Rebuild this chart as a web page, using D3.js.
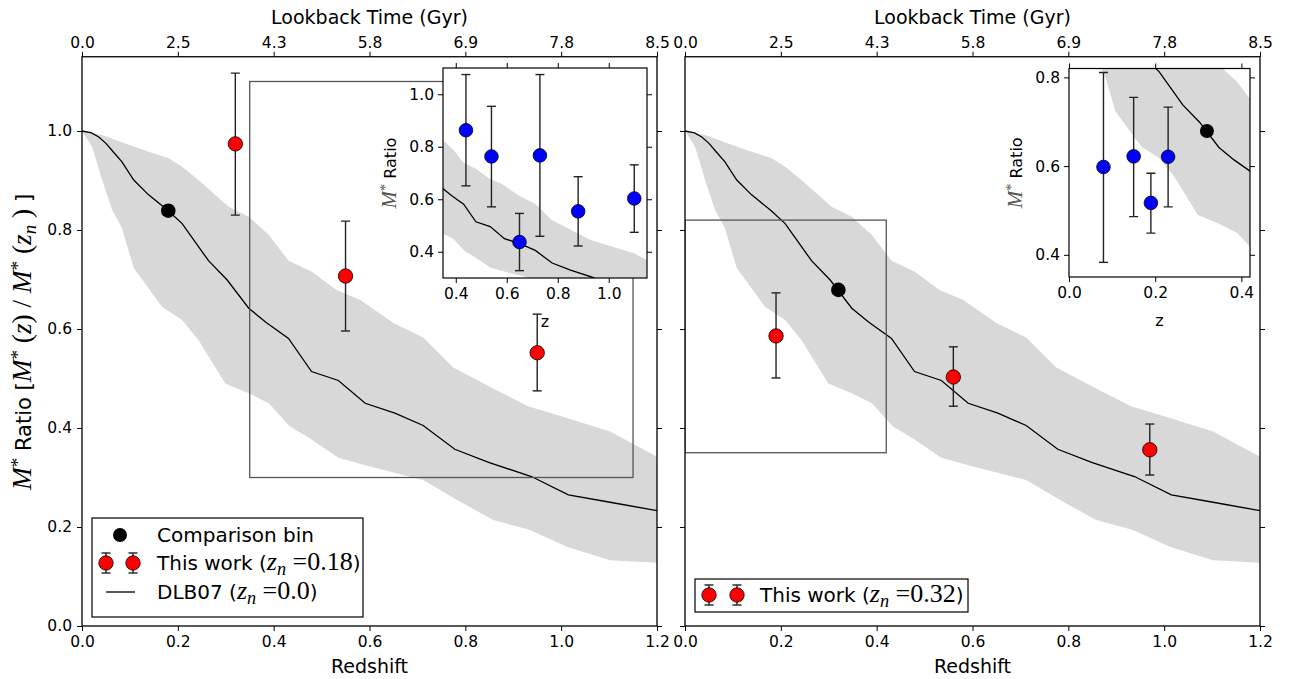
<!DOCTYPE html>
<html>
<head>
<meta charset="utf-8">
<script src="https://cdn.jsdelivr.net/npm/d3@7/dist/d3.min.js"></script>
<style>
  body { margin: 0; background: #fff; }
  svg { display: block; }
  text { font-family: "DejaVu Sans", sans-serif; fill: #000; }
</style>
</head>
<body>
<svg id="chart" width="1290" height="679"></svg>
<script>
// ---------------- DATA ----------------
const redshiftTicks = [0, 0.2, 0.4, 0.6, 0.8, 1.0, 1.2];
const lookbackLabels = ["0.0", "2.5", "4.3", "5.8", "6.9", "7.8", "8.5"];
const ratioTicks = [0, 0.2, 0.4, 0.6, 0.8, 1.0];

// DLB07 model median line
const dlbZ = [0, 0.02, 0.035, 0.05, 0.065, 0.083, 0.108, 0.139, 0.18, 0.209, 0.264, 0.303, 0.348, 0.383, 0.431, 0.479, 0.535, 0.591, 0.653, 0.712, 0.778, 0.85, 0.938, 1.015, 1.102, 1.2];
const dlbV = [1.0, 0.996, 0.988, 0.975, 0.958, 0.938, 0.901, 0.871, 0.839, 0.813, 0.738, 0.699, 0.642, 0.614, 0.581, 0.514, 0.496, 0.45, 0.43, 0.405, 0.357, 0.33, 0.302, 0.265, 0.25, 0.233];
// DLB07 scatter band (upper / lower edges)
const bandUpZ = [0, 0.042, 0.09, 0.139, 0.181, 0.209, 0.243, 0.306, 0.348, 0.39, 0.431, 0.479, 0.531, 0.58, 0.65, 0.712, 0.775, 0.858, 0.931, 1.012, 1.102, 1.2];
const bandUpV = [1.0, 0.992, 0.975, 0.958, 0.945, 0.928, 0.901, 0.847, 0.827, 0.79, 0.738, 0.716, 0.679, 0.659, 0.612, 0.583, 0.522, 0.48, 0.444, 0.42, 0.393, 0.342];
const bandLoZ = [0, 0.021, 0.042, 0.063, 0.083, 0.108, 0.167, 0.209, 0.243, 0.299, 0.348, 0.39, 0.434, 0.476, 0.535, 0.601, 0.712, 0.782, 0.858, 0.935, 1.012, 1.102, 1.2];
const bandLoV = [1.0, 0.968, 0.901, 0.84, 0.805, 0.723, 0.645, 0.618, 0.578, 0.49, 0.47, 0.45, 0.403, 0.379, 0.34, 0.322, 0.295, 0.255, 0.214, 0.194, 0.16, 0.133, 0.128];

// Left panel (z_n = 0.18)
const leftRedZ = [0.32, 0.55, 0.95];
const leftRedV = [0.974, 0.707, 0.552];
const leftRedLo = [0.830, 0.596, 0.475];
const leftRedHi = [1.117, 0.818, 0.630];
const leftCompZ = [0.18];
const leftCompV = [0.839];
const leftInsetZ = [0.44, 0.54, 0.65, 0.73, 0.88, 1.10];
const leftInsetV = [0.863, 0.763, 0.437, 0.767, 0.554, 0.603];
const leftInsetLo = [0.651, 0.571, 0.328, 0.459, 0.422, 0.474];
const leftInsetHi = [1.075, 0.954, 0.546, 1.075, 0.686, 0.731];
const leftInsetXTicks = [0.4, 0.6, 0.8, 1.0];
const leftInsetYTicks = [0.4, 0.6, 0.8, 1.0];

// Right panel (z_n = 0.32)
const rightRedZ = [0.19, 0.56, 0.97];
const rightRedV = [0.586, 0.503, 0.356];
const rightRedLo = [0.501, 0.444, 0.305];
const rightRedHi = [0.673, 0.564, 0.408];
const rightCompZ = [0.32];
const rightCompV = [0.679];
const rightInsetZ = [0.08, 0.15, 0.19, 0.23];
const rightInsetV = [0.598, 0.622, 0.517, 0.621];
const rightInsetLo = [0.383, 0.486, 0.449, 0.508];
const rightInsetHi = [0.811, 0.755, 0.584, 0.733];
const rightInsetXTicks = [0.0, 0.2, 0.4];
const rightInsetYTicks = [0.4, 0.6, 0.8];

// ---------------- DRAWING ----------------
const svg = d3.select("#chart");
const BAND = "#d8d8d8";
const SANS = "DejaVu Sans, sans-serif";
const SERIF = "Liberation Serif, DejaVu Serif, serif";
const MS = 1.3; // math font scale relative to surrounding sans text
const defs = svg.append("defs");

const yMain = d3.scaleLinear().domain([0, 1.15]).range([626, 56.75]);

function clip(id, x, y, w, h) {
  defs.append("clipPath").attr("id", id).append("rect")
    .attr("x", x).attr("y", y).attr("width", w).attr("height", h);
  return "url(#" + id + ")";
}

function drawModel(g, xs, ys) {
  const pts = bandUpZ.map((z, i) => [xs(z), ys(bandUpV[i])])
    .concat(bandLoZ.map((z, i) => [xs(z), ys(bandLoV[i])]).reverse());
  g.append("path").attr("d", d3.line()(pts) + "Z").attr("fill", BAND).attr("stroke", "none");
  const line = d3.line().x((d, i) => xs(dlbZ[i])).y(d => ys(d));
  g.append("path").attr("d", line(dlbV)).attr("fill", "none").attr("stroke", "#000").attr("stroke-width", 1.3);
}

function drawErr(g, xs, ys, Z, V, Lo, Hi, color, r) {
  Z.forEach((z, i) => {
    const x = xs(z);
    g.append("line").attr("x1", x).attr("x2", x).attr("y1", ys(Lo[i])).attr("y2", ys(Hi[i]))
      .attr("stroke", "#222").attr("stroke-width", 1.4);
    [Lo[i], Hi[i]].forEach(v => {
      g.append("line").attr("x1", x - 4.5).attr("x2", x + 4.5).attr("y1", ys(v)).attr("y2", ys(v))
        .attr("stroke", "#222").attr("stroke-width", 1.4);
    });
  });
  Z.forEach((z, i) => {
    g.append("circle").attr("cx", xs(z)).attr("cy", ys(V[i])).attr("r", r)
      .attr("fill", color).attr("stroke", "#000").attr("stroke-width", 0.8);
  });
}

function drawPts(g, xs, ys, Z, V, r) {
  Z.forEach((z, i) => g.append("circle").attr("cx", xs(z)).attr("cy", ys(V[i])).attr("r", r).attr("fill", "#000"));
}

function styleAxis(sel, size) {
  sel.select(".domain").remove();
  sel.selectAll(".tick line").attr("stroke", "#000").attr("stroke-width", 1);
  sel.selectAll(".tick text").style("font-family", SANS).style("font-size", size + "px").attr("fill", "#000");
}

function richText(parent, x, y, parts, size, anchor) {
  const t = parent.append("text").attr("x", x).attr("y", y).attr("text-anchor", anchor || "start")
    .style("font-size", size + "px");
  parts.forEach(p => {
    const ts = t.append("tspan").text(p.t);
    ts.style("font-family", p.serif ? SERIF : SANS);
    let s = p.serif ? size * MS : size;
    if (p.it) ts.style("font-style", "italic");
    if (p.sup) { ts.attr("baseline-shift", "38%"); s *= 0.7; }
    if (p.sub) { ts.attr("baseline-shift", "-25%"); s *= 0.7; }
    if (p.col) ts.style("fill", p.col);
    ts.style("font-size", s + "px");
  });
  return t;
}

function panel(cfg) {
  const x0 = cfg.x0, x1 = cfg.x0 + 575;
  const xs = d3.scaleLinear().domain([0, 1.2]).range([x0, x1]);
  const g = svg.append("g");
  const cp = clip(cfg.id + "clip", x0, 56.75, 575, 626 - 56.75);
  const inner = g.append("g").attr("clip-path", cp);
  drawModel(inner, xs, yMain);
  // zoom rectangle
  inner.append("rect").attr("x", xs(cfg.rect[0])).attr("y", yMain(cfg.rect[3]))
    .attr("width", xs(cfg.rect[1]) - xs(cfg.rect[0])).attr("height", yMain(cfg.rect[2]) - yMain(cfg.rect[3]))
    .attr("fill", "none").attr("stroke", "#555").attr("stroke-width", 1.3);
  drawPts(inner, xs, yMain, cfg.compZ, cfg.compV, 7.3);
  drawErr(inner, xs, yMain, cfg.redZ, cfg.redV, cfg.redLo, cfg.redHi, "#ff0000", 7.2);

  // axes
  const bottom = g.append("g").attr("transform", `translate(0,626)`)
    .call(d3.axisBottom(xs).tickValues(redshiftTicks).tickFormat(d3.format(".1f")).tickSize(5).tickPadding(5));
  styleAxis(bottom, 15.5);
  const top = g.append("g").attr("transform", `translate(0,56.75)`)
    .call(d3.axisTop(xs).tickValues(redshiftTicks).tickFormat((d, i) => lookbackLabels[i]).tickSize(5).tickPadding(4));
  styleAxis(top, 15.5);
  const left = g.append("g").attr("transform", `translate(${x0},0)`)
    .call(d3.axisLeft(yMain).tickValues(ratioTicks).tickFormat(cfg.yLabels ? d3.format(".1f") : "").tickSize(5).tickPadding(5));
  styleAxis(left, 15.5);
  const right = g.append("g").attr("transform", `translate(${x1},0)`)
    .call(d3.axisRight(yMain).tickValues(ratioTicks).tickFormat("").tickSize(5));
  styleAxis(right, 15.5);
  g.append("rect").attr("x", x0).attr("y", 56.75).attr("width", 575).attr("height", 626 - 56.75)
    .attr("fill", "none").attr("stroke", "#000").attr("stroke-width", 1.3);

  g.append("text").attr("x", (x0 + x1) / 2).attr("y", 673).attr("text-anchor", "middle")
    .style("font-size", "19px").text("Redshift");
  g.append("text").attr("x", (x0 + x1) / 2).attr("y", 24).attr("text-anchor", "middle")
    .style("font-size", "19px").text("Lookback Time (Gyr)");

  // inset
  const ins = cfg.inset;
  const ixs = d3.scaleLinear().domain(ins.xd).range([ins.x, ins.x + ins.w]);
  const iys = d3.scaleLinear().domain(ins.yd).range([ins.y + ins.h, ins.y]);
  const ig = g.append("g");
  ig.append("rect").attr("x", ins.x).attr("y", ins.y).attr("width", ins.w).attr("height", ins.h).attr("fill", "#fff");
  const icp = clip(cfg.id + "iclip", ins.x, ins.y, ins.w, ins.h);
  const iin = ig.append("g").attr("clip-path", icp);
  drawModel(iin, ixs, iys);
  drawPts(iin, ixs, iys, ins.compZ, ins.compV, 7);
  drawErr(iin, ixs, iys, ins.Z, ins.V, ins.Lo, ins.Hi, "#0000ff", 6.8);
  const ib = ig.append("g").attr("transform", `translate(0,${ins.y + ins.h})`)
    .call(d3.axisBottom(ixs).tickValues(ins.xt).tickFormat(d3.format(".1f")).tickSize(5).tickPadding(5));
  styleAxis(ib, 15.5);
  const it = ig.append("g").attr("transform", `translate(0,${ins.y})`)
    .call(d3.axisTop(ixs).tickValues(ins.xt).tickFormat("").tickSize(5));
  styleAxis(it, 15.5);
  const il = ig.append("g").attr("transform", `translate(${ins.x},0)`)
    .call(d3.axisLeft(iys).tickValues(ins.yt).tickFormat(d3.format(".1f")).tickSize(5).tickPadding(4));
  styleAxis(il, 15.5);
  const ir = ig.append("g").attr("transform", `translate(${ins.x + ins.w},0)`)
    .call(d3.axisRight(iys).tickValues(ins.yt).tickFormat("").tickSize(5));
  styleAxis(ir, 15.5);
  ig.append("rect").attr("x", ins.x).attr("y", ins.y).attr("width", ins.w).attr("height", ins.h)
    .attr("fill", "none").attr("stroke", "#000").attr("stroke-width", 1.2);
  ig.append("text").attr("x", ins.x + ins.w / 2).attr("y", ins.y + ins.h + 49).attr("text-anchor", "middle")
    .style("font-size", "16px").text("z");
  const yl = richText(ig, 0, 0, [
    { t: "M", serif: true, it: true, col: "#555" }, { t: "*", serif: true, sup: true, col: "#555" }, { t: " Ratio" }
  ], 16, "middle");
  yl.attr("transform", `translate(${ins.ylabX},${ins.y + ins.h / 2}) rotate(-90)`);
  return g;
}

const leftG = panel({
  id: "L", x0: 82, yLabels: true, rect: [0.35, 1.15, 0.3, 1.1],
  redZ: leftRedZ, redV: leftRedV, redLo: leftRedLo, redHi: leftRedHi,
  compZ: leftCompZ, compV: leftCompV,
  inset: { x: 443, y: 68, w: 204, h: 210, xd: [0.35, 1.15], yd: [0.3, 1.1], xt: leftInsetXTicks, yt: leftInsetYTicks,
    Z: leftInsetZ, V: leftInsetV, Lo: leftInsetLo, Hi: leftInsetHi, compZ: [], compV: [], ylabX: 396 }
});
const rightG = panel({
  id: "R", x0: 685, yLabels: false, rect: [0, 0.42, 0.35, 0.82],
  redZ: rightRedZ, redV: rightRedV, redLo: rightRedLo, redHi: rightRedHi,
  compZ: rightCompZ, compV: rightCompV,
  inset: { x: 1069, y: 68.5, w: 181, h: 208.5, xd: [0, 0.42], yd: [0.35, 0.82], xt: rightInsetXTicks, yt: rightInsetYTicks,
    Z: rightInsetZ, V: rightInsetV, Lo: rightInsetLo, Hi: rightInsetHi, compZ: rightCompZ, compV: rightCompV, ylabX: 1022 }
});

// main y label
const ylab = richText(svg, 0, 0, [
  { t: "M", serif: true, it: true }, { t: "*", serif: true, sup: true },
  { t: " Ratio [" },
  { t: "M", serif: true, it: true }, { t: "*", serif: true, sup: true },
  { t: " (", serif: true }, { t: "z", serif: true, it: true }, { t: ")", serif: true }, { t: " / ", serif: true },
  { t: "M", serif: true, it: true }, { t: "*", serif: true, sup: true },
  { t: " (", serif: true }, { t: "z", serif: true, it: true }, { t: "n", serif: true, it: true, sub: true },
  { t: " )", serif: true }, { t: " ]" }
], 21, "middle");
ylab.attr("transform", "translate(31,342) rotate(-90)");

// legends
function errMarker(g, x, y) {
  g.append("line").attr("x1", x).attr("x2", x).attr("y1", y - 10).attr("y2", y + 10).attr("stroke", "#222").attr("stroke-width", 1.4);
  [y - 10, y + 10].forEach(v => g.append("line").attr("x1", x - 4.5).attr("x2", x + 4.5).attr("y1", v).attr("y2", v).attr("stroke", "#222").attr("stroke-width", 1.4));
  g.append("circle").attr("cx", x).attr("cy", y).attr("r", 7.2).attr("fill", "#ff0000").attr("stroke", "#000").attr("stroke-width", 0.8);
}
const legL = svg.append("g");
legL.append("rect").attr("x", 92).attr("y", 518).attr("width", 271).attr("height", 99).attr("fill", "#fff").attr("stroke", "#000").attr("stroke-width", 1.2);
legL.append("circle").attr("cx", 120).attr("cy", 535).attr("r", 7).attr("fill", "#000");
legL.append("text").attr("x", 157).attr("y", 542).style("font-size", "20px").text("Comparison bin");
errMarker(legL, 106, 563); errMarker(legL, 133, 563);
richText(legL, 157, 570, [{ t: "This work (" }, { t: "z", serif: true, it: true }, { t: "n", serif: true, it: true, sub: true },
  { t: " =0.18", serif: true }, { t: ")" }], 20);
legL.append("line").attr("x1", 106).attr("x2", 135).attr("y1", 592).attr("y2", 592).attr("stroke", "#000").attr("stroke-width", 1.3);
richText(legL, 157, 599, [{ t: "DLB07 (" }, { t: "z", serif: true, it: true }, { t: "n", serif: true, it: true, sub: true },
  { t: " =0.0", serif: true }, { t: ")" }], 20);

const legR = svg.append("g");
legR.append("rect").attr("x", 695).attr("y", 579).attr("width", 273).attr("height", 33).attr("fill", "#fff").attr("stroke", "#000").attr("stroke-width", 1.2);
errMarker(legR, 709, 595); errMarker(legR, 737, 595);
richText(legR, 760, 602, [{ t: "This work (" }, { t: "z", serif: true, it: true }, { t: "n", serif: true, it: true, sub: true },
  { t: " =0.32", serif: true }, { t: ")" }], 20);
</script>
</body>
</html>
